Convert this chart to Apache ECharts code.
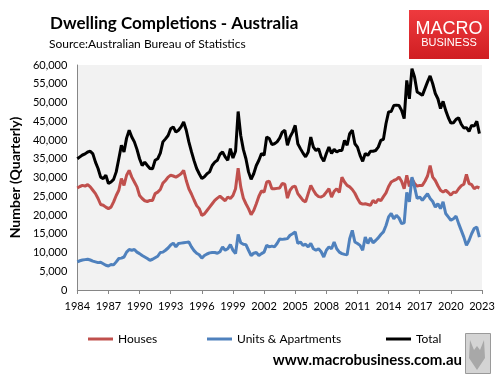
<!DOCTYPE html>
<html>
<head>
<meta charset="utf-8">
<script src="https://cdn.jsdelivr.net/npm/echarts@6/dist/echarts.min.js"></script>
<style>
    html, body { margin: 0; padding: 0; background: #fff; }
    #chartView { width: 500px; height: 375px; }
</style>
</head>
<body>
<div id="chartView"></div>
<script>
    // quarterly, 1984 Q1 .. 2022 Q4
    var houses = [27200,27600,27900,27700,28100,27500,26600,25700,24400,22800,
        22600,22100,21700,22100,23500,25200,26600,29700,27900,30600,
        31900,30100,28800,27500,25200,24400,23800,23600,23900,23900,
        25700,26100,26800,28500,29200,30100,30600,30400,30100,30500,
        31000,31900,29200,27000,25600,24000,22500,21700,19900,20300,
        21200,22100,23000,23900,24500,25000,24400,23800,24800,24400,
        25200,27000,32500,27500,24500,23000,21700,20100,21200,23000,
        25000,26400,26100,28800,29000,27000,27000,27100,27200,28400,
        28200,24500,26600,27500,27700,25700,24800,23900,23500,25700,
        27900,26600,25500,24900,24800,25200,26100,27000,24800,26300,
        27000,26000,30100,28800,27900,27500,26800,25800,24400,23200,
        22900,23000,22800,22600,23900,23200,24200,23800,24900,25900,
        27600,28800,29200,29500,30100,29000,27000,30600,27600,29700,
        28400,27700,27900,27900,29000,30400,33200,30100,29200,27800,
        26600,26100,26600,26000,25300,26100,26000,27000,27800,28200,
        30800,28400,28100,27000,27500,27200];

    var units = [7500,7800,8000,8100,8200,8000,7700,7500,7300,7400,
        7000,6600,6400,6800,6700,7500,8400,8500,8800,10100,
        10800,10600,10800,10100,9700,9200,8800,8400,7900,8200,
        8600,9000,10000,10100,10600,11200,12000,12500,11500,12400,
        12500,12600,12700,12800,11500,10500,9800,9400,8500,9200,
        9600,9900,10000,10000,9800,10200,11500,10600,11000,12100,
        10600,9700,14800,12600,12200,12100,10600,9200,9800,10000,
        9200,9700,10100,11900,11500,11700,11500,12400,13600,13500,
        13600,13700,14600,15000,15500,12400,12800,11900,12200,11500,
        12400,11000,10600,11000,10200,8800,10600,11500,11000,12800,
        11000,10100,9700,9500,9400,13700,15900,12800,12400,11900,
        10600,14100,12400,13900,12600,13200,13900,14800,15500,17200,
        19500,20400,19000,19900,19200,17700,17900,26000,23500,30100,
        27500,24400,24800,23900,24800,25700,24400,23600,22100,23000,
        21700,23500,20400,19500,18600,19000,19700,17700,15900,14100,
        11900,13200,15000,16400,16800,14100];

    var total = [35000,35500,36000,36300,36800,37000,36300,34100,32400,30100,
        29700,30600,28400,28800,29500,31500,35000,38600,36800,40500,
        42600,40800,39500,37500,35000,33200,34100,33200,32400,32300,
        34600,35000,36500,39500,40300,41200,43000,43500,42100,42600,
        43500,44800,42600,39500,36900,34500,32400,31000,29700,30200,
        31000,31500,33200,34100,34600,36200,36800,35500,34600,37700,
        35200,37000,47600,41200,37500,35000,31500,29500,31000,33200,
        34600,36400,35900,40800,40400,38800,39000,39500,40500,42100,
        42600,38600,40800,42100,43900,39000,37700,36500,35500,36800,
        40800,38100,37200,37700,35500,34300,36400,38100,36400,37500,
        36800,37200,37200,39900,38600,41700,42600,39000,38100,35900,
        34300,36400,35900,37000,37000,37200,38100,39900,40200,44400,
        47500,47600,49200,49300,49200,47900,45700,55900,51000,59000,
        56800,52800,52400,51900,53700,55500,57100,55000,52400,51000,
        48400,50300,47900,46000,44500,44600,45500,45900,44200,43200,
        43300,42300,43900,43700,45000,41700];

    // category labels: one per quarter, axis runs to 2023 Q1
    var quarters = [];
    for (var y = 1984; y <= 2023; y++) {
        for (var q = 1; q <= 4; q++) {
            if (y === 2023 && q > 1) break;
            quarters.push(y + '-Q' + q);
        }
    }

    var seriesNames = ['Houses', 'Units & Apartments', 'Total'];
    var theColors = ['#C0504D', '#4F81BD', '#000000'];
    var theFont = 'Lato, "Liberation Sans", sans-serif';

    var chartView = echarts.init(document.getElementById('chartView'));

    var everyThreeYears = function (idx) { return idx % 12 === 0; };

    var option = {
        animation: false,
        textStyle: {fontFamily: theFont},
        grid: {
            left: 69,
            right: 18,
            top: 65,
            bottom: 85,
            show: true,
            backgroundColor: '#F2F2F2',
            borderWidth: 0
        },
        legend: [
            {data: [seriesNames[0]], left: 83, top: 328},
            {data: [seriesNames[1]], left: 202, top: 328},
            {data: [seriesNames[2]], left: 381, top: 328}
        ].map(function (l) {
            l.icon = 'rect';
            l.itemWidth = 25;
            l.itemHeight = 3;
            l.textStyle = {fontFamily: theFont, fontSize: 12, color: '#000'};
            return l;
        }),
        xAxis: {
            type: 'category',
            boundaryGap: false,
            data: quarters,
            axisLine: {lineStyle: {color: '#868686', width: 1}},
            axisTick: {show: true, interval: everyThreeYears, length: 4, lineStyle: {color: '#868686'}},
            axisLabel: {
                interval: everyThreeYears,
                formatter: function (v) { return v.slice(0, 4); },
                color: '#000',
                fontSize: 11,
                margin: 11,
                fontFamily: theFont
            },
            splitLine: {show: false}
        },
        yAxis: {
            type: 'value',
            min: 0,
            max: 60000,
            interval: 5000,
            name: 'Number (Quarterly)',
            nameLocation: 'middle',
            nameGap: 52,
            nameTextStyle: {fontSize: 14, fontWeight: 'bold', color: '#000', fontFamily: theFont},
            axisLine: {show: true, lineStyle: {color: '#868686', width: 1}},
            axisTick: {show: false},
            axisLabel: {
                color: '#000',
                fontSize: 11,
                margin: 10,
                fontFamily: theFont,
                formatter: function (v) { return v.toLocaleString('en-US'); }
            },
            splitLine: {show: false}
        },
        series: [
            {name: seriesNames[0], type: 'line', data: houses},
            {name: seriesNames[1], type: 'line', data: units},
            {name: seriesNames[2], type: 'line', data: total}
        ].map(function (s, i) {
            s.showSymbol = false;
            s.symbol = 'none';
            s.color = theColors[i];
            s.lineStyle = {width: 3, color: theColors[i]};
            return s;
        }),
        graphic: [
            {
                type: 'text', left: 50, top: 15,
                style: {text: 'Dwelling Completions - Australia', font: 'bold 17px ' + theFont, fill: '#000'}
            },
            {
                type: 'text', left: 49, top: 38,
                style: {text: 'Source:Australian Bureau of Statistics', font: '12px ' + theFont, fill: '#000'}
            },
            // logo box
            {
                type: 'rect', left: 409, top: 10,
                shape: {width: 80, height: 49},
                style: {
                    fill: new echarts.graphic.LinearGradient(0, 0, 0, 1, [
                        {offset: 0, color: '#EE3A3E'},
                        {offset: 1, color: '#D01E22'}
                    ])
                }
            },
            {
                type: 'text', x: 449, y: 29,
                style: {text: 'MACRO', font: '18px "Liberation Sans", sans-serif', fill: '#fff', align: 'center', verticalAlign: 'middle'}
            },
            {
                type: 'text', x: 449, y: 43,
                style: {text: 'BUSINESS', font: '11px "Liberation Sans", sans-serif', fill: '#fff', align: 'center', verticalAlign: 'middle'}
            },
            {
                type: 'text', x: 462, y: 360,
                style: {text: 'www.macrobusiness.com.au', font: 'bold 15px ' + theFont, fill: '#000', align: 'right', verticalAlign: 'middle'}
            },
            // wolf picture placeholder
            {
                type: 'rect', left: 465, top: 333,
                shape: {width: 25, height: 40},
                style: {fill: '#D4D4D4', stroke: '#9A9A9A', lineWidth: 1}
            },
            {
                type: 'polygon',
                shape: {points: [[470, 340], [474, 350], [477, 346], [480, 350], [484, 340], [485, 358], [477, 370], [469, 358]]},
                style: {fill: '#A8A8A8'}
            }
        ]
    };

    chartView.setOption(option);
</script>
</body>
</html>
